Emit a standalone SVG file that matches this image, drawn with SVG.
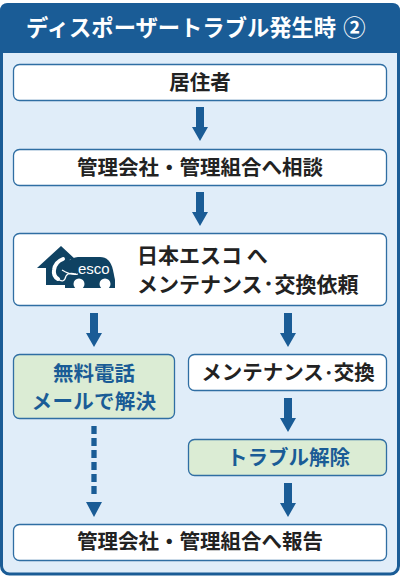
<svg xmlns="http://www.w3.org/2000/svg" width="400" height="576" viewBox="0 0 400 576">
<style>
.b{fill:#fff;stroke:#2f6ea3;stroke-width:1.3}
.g{fill:#dbecd4;stroke:#2f6ea3;stroke-width:1.3}
text{font-family:"Noto Sans CJK JP","Noto Sans",sans-serif;font-weight:700;text-anchor:middle}
.k{fill:#222;font-size:20.500px}
.t{fill:#1a5c96;font-size:20.500px}
.a{fill:#1a5c96}
.d{font-size:12px;stroke:#222;stroke-width:1}
</style>
<defs><path id="ar" class="a" d="M-4 0H4V20H8L0 34L-8 20H-4Z"/></defs>
<g id="panel">
<rect x="1.5" y="4.500" width="397" height="569.500" rx="8" fill="#e0edf9" stroke="#1a5c96" stroke-width="3"/>
<path d="M0 53V11Q0 3 8 3H392Q400 3 400 11V53Z" fill="#1a5c96"/>
<text x="26" y="36" font-size="22.300px" fill="#fff" style="text-anchor:start">ディスポーザートラブル発生時<tspan dx="7">②</tspan></text>
</g>
<g id="n1"><rect class="b" x="13.500" y="64.500" width="373" height="36" rx="6"/><text class="k" x="200" y="89.500">居住者</text></g>
<g id="n2"><rect class="b" x="13.500" y="149.500" width="373" height="36" rx="6"/><text class="k" x="200" y="174.500">管理会社・管理組合へ相談</text></g>
<g id="n3"><rect class="b" x="13.500" y="233.500" width="373" height="72" rx="6"/>
<path fill="#0f4262" d="M37 268L61 246L75 259H70L65 285H46V268Z"/>
<path fill="#0f4262" d="M65 288V270Q66 258 78 257H100Q110 257 113 270L115 280V288Z"/>
<circle cx="79" cy="284" r="5.500" fill="#fff"/><circle cx="105" cy="284" r="5.500" fill="#fff"/>
<path fill="none" stroke="#fff" stroke-width="4" stroke-linecap="round" d="M63 259Q55 262 54 270Q53 276 58 279"/>
<path fill="none" stroke="#fff" stroke-width="1.200" d="M58 279Q64 284 66 276Q68 272 76 274M62 270Q72 276 78 274"/>
<text x="78" y="274" font-size="15px" fill="#fff" style="font-family:'Liberation Sans',sans-serif;font-weight:400;text-anchor:start">esco</text>
<text class="k" x="137" y="263" style="text-anchor:start;font-size:21px">日本エスコ へ</text>
<text class="k" x="137" y="292" style="text-anchor:start;font-size:21px">メンテナンス<tspan class="d" dy="-3">・</tspan><tspan dy="3">交換依頼</tspan></text></g>
<g id="n4"><rect class="g" x="13.500" y="354.500" width="161" height="64" rx="6"/><text class="t" x="94" y="380.500">無料電話</text><text class="t" x="94" y="408.500" style="letter-spacing:.3px">メールで解決</text></g>
<g id="n5"><rect class="b" x="188.500" y="354.500" width="198" height="36" rx="6"/><text class="k" x="288" y="380">メンテナンス<tspan class="d" dy="-3" style="font-size:10px">・</tspan><tspan dy="3">交換</tspan></text></g>
<g id="n6"><rect class="g" x="188.500" y="439.500" width="198" height="36" rx="6"/><text class="t" x="288.500" y="464.500">トラブル解除</text></g>
<g id="n7"><rect class="b" x="13.500" y="524.500" width="373" height="36" rx="6"/><text class="k" x="200" y="549">管理会社・管理組合へ報告</text></g>
<g id="connectors">
<use href="#ar" x="200" y="107"/>
<use href="#ar" x="200" y="192"/>
<use href="#ar" x="94" y="313"/>
<use href="#ar" x="288" y="313"/>
<use href="#ar" x="288" y="398"/>
<use href="#ar" x="288" y="483"/>
<path d="M94 426V494" stroke="#1a5c96" stroke-width="5.300" stroke-dasharray="8 4" fill="none"/>
<path class="a" d="M86 502H102L94 517Z"/>
</g>
</svg>
